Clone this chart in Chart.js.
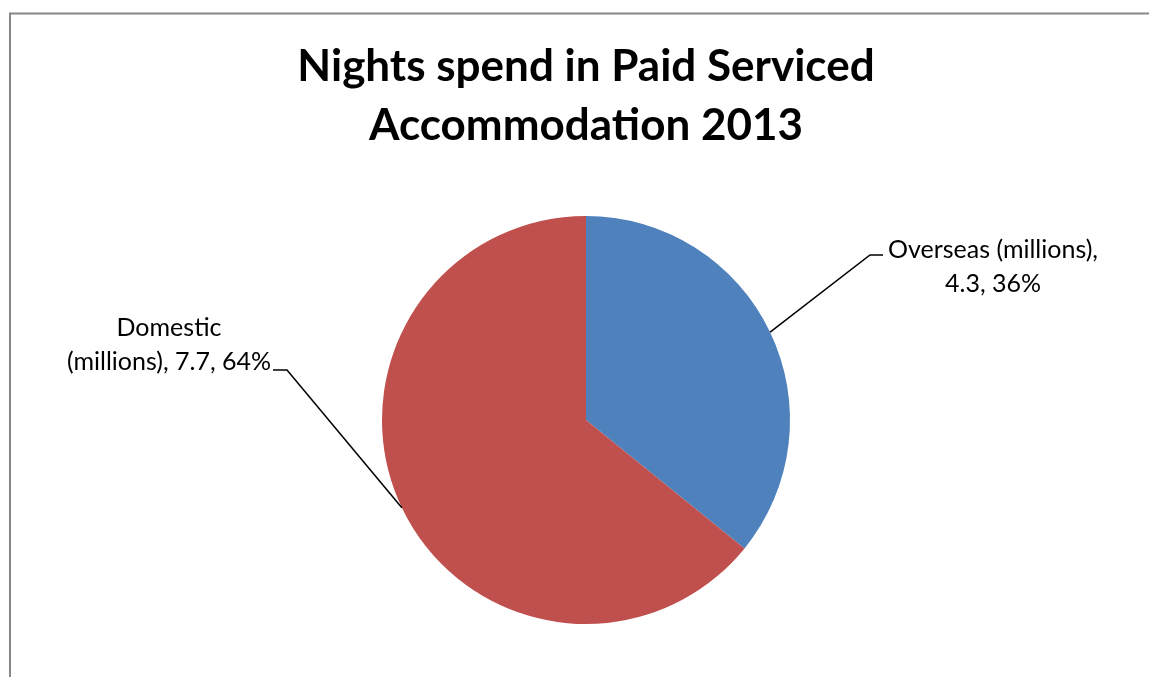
<!DOCTYPE html>
<html>
<head>
<meta charset="utf-8">
<script src="https://cdn.jsdelivr.net/npm/chart.js@4.4.0/dist/chart.umd.min.js"></script>
<style>
  html, body { margin: 0; padding: 0; background: #fff; overflow: hidden; }
  #wrap { position: relative; width: 1149px; height: 677px; }
</style>
</head>
<body>
<div id="wrap"><canvas id="pie"></canvas></div>
<script>
// chart data
const categories = ['Overseas (millions)', 'Domestic (millions)'];
const values = [4.3, 7.7];
const percents = ['36%', '64%'];
const sliceColors = ['#4F81BD', '#C0504D'];
const titleLines = ['Nights spend in Paid Serviced', 'Accommodation 2013'];

// where each label block sits (centre x, first baseline y) and its elbow
const labelSpots = [
    { lines: ['Overseas (millions),', '4.3, 36%'], cx: 993, y: 258, elbow: [870, 255], end: [883, 255] },
    { lines: ['Domestic', '(millions), 7.7, 64%'], cx: 169, y: 336, elbow: [287, 370], end: [273, 370] }
];

const FONT = "Lato, 'Open Sans', sans-serif";

// frame + title + leader labels
const decorPlugin = {
    id: 'decor',
    beforeDraw(chart) {
        const ctx = chart.ctx;
        ctx.save();
        ctx.fillStyle = '#fff';
        ctx.fillRect(0, 0, chart.width, chart.height);
        ctx.strokeStyle = '#878787';
        ctx.lineWidth = 2;
        ctx.beginPath();
        ctx.moveTo(chart.width + 5, 13.5);
        ctx.lineTo(10, 13.5);
        ctx.lineTo(10, chart.height + 5);
        ctx.stroke();
        ctx.restore();
    },
    afterDraw(chart) {
        const ctx = chart.ctx;
        const arcs = chart.getDatasetMeta(0).data;
        ctx.save();

        // title
        ctx.fillStyle = '#000';
        ctx.textAlign = 'center';
        ctx.textBaseline = 'alphabetic';
        ctx.font = "bold 44px " + FONT;
        ctx.fillText(titleLines[0], 586, 81);
        ctx.fillText(titleLines[1], 586, 140);

        // data labels with leader lines
        ctx.font = "25px " + FONT;
        arcs.forEach((arc, i) => {
            const spot = labelSpots[i];
            const p = arc.getProps(['x', 'y', 'startAngle', 'endAngle', 'outerRadius'], true);
            const mid = (p.startAngle + p.endAngle) / 2;
            const sx = p.x + Math.cos(mid) * p.outerRadius;
            const sy = p.y + Math.sin(mid) * p.outerRadius;
            ctx.strokeStyle = '#000';
            ctx.lineWidth = 1.5;
            ctx.beginPath();
            ctx.moveTo(sx, sy);
            ctx.lineTo(spot.elbow[0], spot.elbow[1]);
            ctx.lineTo(spot.end[0], spot.end[1]);
            ctx.stroke();
            spot.lines.forEach((t, k) => {
                ctx.fillText(t, spot.cx, spot.y + k * 34);
            });
        });
        ctx.restore();
    }
};

new Chart(document.getElementById('pie'), {
    type: 'pie',
    data: {
        labels: categories,
        datasets: [{
            data: values,
            backgroundColor: sliceColors,
            borderWidth: 0
        }]
    },
    options: {
        responsive: true,
        maintainAspectRatio: false,
        animation: false,
        layout: { padding: { top: 216, bottom: 53, left: 23, right: 0 } },
        plugins: {
            legend: { display: false },
            title: { display: false },
            tooltip: { enabled: false }
        }
    },
    plugins: [decorPlugin]
});
</script>
</body>
</html>
